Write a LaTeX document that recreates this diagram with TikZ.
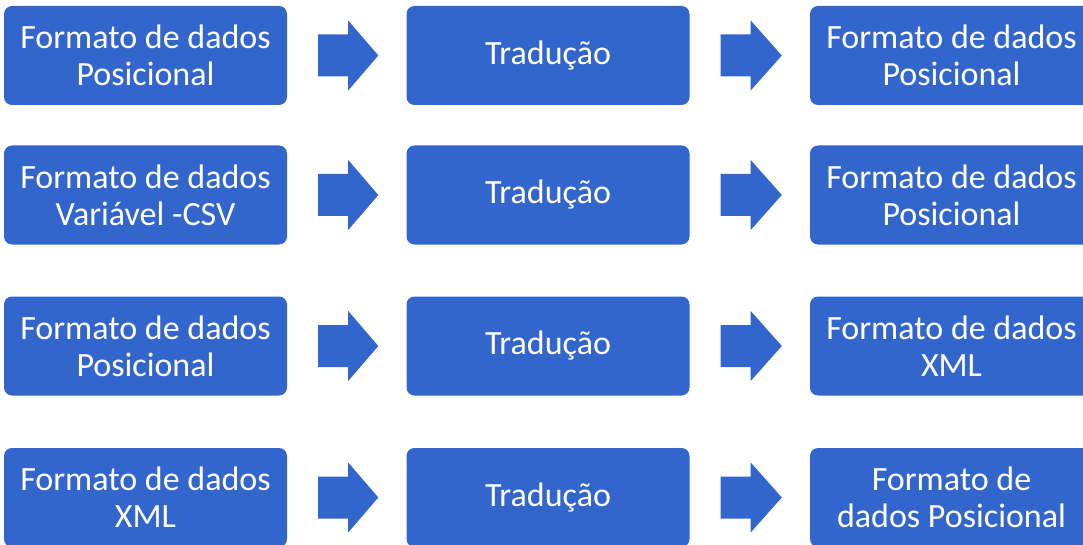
\documentclass[tikz,border=0pt]{standalone}
\usepackage{fontspec}
\setmainfont{Carlito}
\usetikzlibrary{calc}
\definecolor{boxblue}{RGB}{51,102,204}
\begin{document}
\begin{tikzpicture}[x=1pt,y=1pt,
  box/.style={fill=boxblue, rounded corners=8pt, minimum width=283pt, minimum height=99pt,
    inner sep=0pt, text=white, align=center, font=\fontsize{34}{37}\selectfont},
  blockarrow/.style={fill=boxblue}]
\useasboundingbox (0,0) rectangle (1083,-545);
\clip (0,0) rectangle (1083,-545);
% row 1
\node[box] (a1) at (145.5,-55.5) {Formato de dados\\Posicional};
\node[box] (b1) at (548,-55.5) {Tradução};
\node[box] (c1) at (951.5,-55.5) {Formato de dados\\Posicional};
% row 2
\node[box] (a2) at (145.5,-195) {Formato de dados\\Variável -CSV};
\node[box] (b2) at (548,-195) {Tradução};
\node[box] (c2) at (951.5,-195) {Formato de dados\\Posicional};
% row 3
\node[box] (a3) at (145.5,-346) {Formato de dados\\Posicional};
\node[box] (b3) at (548,-346) {Tradução};
\node[box] (c3) at (951.5,-346) {Formato de dados\\XML};
% row 4
\node[box] (a4) at (145.5,-497.5) {Formato de dados\\XML};
\node[box] (b4) at (548,-497.5) {Tradução};
\node[box] (c4) at (951.5,-497.5) {Formato de\\dados Posicional};
% block arrows
\foreach \s/\t in {a1/b1,b1/c1,a2/b2,b2/c2,a3/b3,b3/c3,a4/b4,b4/c4}{
  \fill[blockarrow] ($(\s.east)+(31,21)$) -- ($(\s.east)+(61,21)$) -- ($(\s.east)+(61,35)$)
    -- ($(\t.west)+(-28,0)$) -- ($(\s.east)+(61,-35)$) -- ($(\s.east)+(61,-21)$)
    -- ($(\s.east)+(31,-21)$) -- cycle;
}
\end{tikzpicture}
\end{document}
